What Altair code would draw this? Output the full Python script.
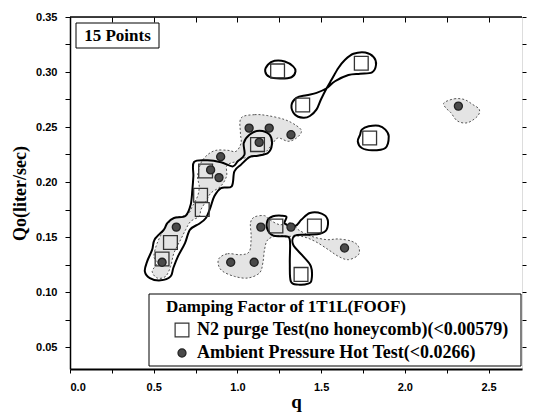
import altair as alt
import pandas as pd

# ---- measured points ----
series_names = ["N2 purge Test(no honeycomb)(<0.00579)", "Ambient Pressure Hot Test(<0.0266)"]

sq_q = [1.24, 1.74, 1.39, 1.79, 1.12, 0.81, 0.78, 0.79, 1.46, 1.23, 0.60, 0.55, 1.38]
sq_Qo = [0.301, 0.308, 0.270, 0.240, 0.234, 0.210, 0.188, 0.175, 0.160, 0.160, 0.145, 0.130, 0.116]

ci_q = [2.32, 1.07, 1.19, 1.32, 1.13, 0.90, 0.84, 0.89, 1.14, 1.32, 1.64, 0.635, 0.55, 0.96, 1.10]
ci_Qo = [0.269, 0.249, 0.249, 0.243, 0.236, 0.223, 0.211, 0.204, 0.159, 0.159, 0.140, 0.159, 0.127, 0.127, 0.127]

# ---- solid contours (N2 purge) ----
solid_top_q = [1.182, 1.222, 1.283, 1.333, 1.347, 1.323, 1.253, 1.192, 1.166]
solid_top_Qo = [0.3066, 0.3102, 0.3096, 0.3051, 0.3006, 0.2952, 0.294, 0.2955, 0.3006]

solid_loop_q = [1.323, 1.353, 1.413, 1.473, 1.533, 1.583, 1.663, 1.733, 1.804, 1.828, 1.814, 1.764, 1.693,
                1.643, 1.603, 1.563, 1.533, 1.499, 1.473, 1.433, 1.393, 1.343]
solid_loop_Qo = [0.2696, 0.2765, 0.2789, 0.281, 0.2852, 0.2916, 0.2973, 0.2985, 0.2997, 0.3066, 0.3136, 0.3178,
                 0.3166, 0.3111, 0.3036, 0.2931, 0.2852, 0.275, 0.266, 0.26, 0.2584, 0.2614]

solid_right_q = [1.743, 1.784, 1.844, 1.884, 1.904, 1.884, 1.804, 1.743, 1.719, 1.733]
solid_right_Qo = [0.2476, 0.2506, 0.2512, 0.2476, 0.2415, 0.2309, 0.2288, 0.2309, 0.2370, 0.243]

solid_chain_q = [0.741, 0.822, 0.902, 0.972, 1.002, 1.042, 1.038, 1.072, 1.132, 1.192, 1.206, 1.182, 1.122,
                 1.072, 1.022, 0.982, 0.966, 0.902, 0.862, 0.838, 0.812, 0.772, 0.717, 0.687, 0.645, 0.617,
                 0.601, 0.541, 0.477, 0.447, 0.461, 0.491, 0.505, 0.561, 0.581, 0.621, 0.691, 0.721, 0.731, 0.737]
solid_chain_Qo = [0.2182, 0.2197, 0.2179, 0.2142, 0.2188, 0.2248, 0.2355, 0.2430, 0.2467, 0.2430, 0.2339,
                  0.2264, 0.2239, 0.2227, 0.2158, 0.2097, 0.1961, 0.1945, 0.1870, 0.1764, 0.1673, 0.1621,
                  0.1567, 0.1445, 0.1324, 0.1218, 0.1142, 0.1106, 0.1127, 0.1188, 0.1279, 0.1385, 0.1476,
                  0.1567, 0.1627, 0.1673, 0.1694, 0.1794, 0.1930, 0.2052]

solid_low_q = [1.18, 1.212, 1.263, 1.293, 1.283, 1.343, 1.383, 1.433, 1.503, 1.539, 1.533, 1.493, 1.423,
               1.343, 1.333, 1.393, 1.439, 1.443, 1.423, 1.363, 1.319, 1.313, 1.313, 1.283, 1.215, 1.18]
solid_low_Qo = [0.1652, 0.1688, 0.1694, 0.1682, 0.1621, 0.1597, 0.1658, 0.1718, 0.1712, 0.1658, 0.1567,
                0.1530, 0.1521, 0.1512, 0.1430, 0.1324, 0.1233, 0.1112, 0.1076, 0.1067, 0.1097, 0.1264,
                0.1476, 0.1506, 0.1512, 0.1567]

# ---- hatched regions (Ambient hot test) ----
hatch_a_q = [2.234, 2.295, 2.355, 2.405, 2.445, 2.435, 2.375, 2.315, 2.275, 2.244]
hatch_a_Qo = [0.272, 0.2756, 0.275, 0.2705, 0.266, 0.26, 0.2539, 0.2554, 0.263, 0.2675]

hatch_b_q = [1.022, 1.102, 1.182, 1.283, 1.353, 1.383, 1.353, 1.303, 1.242, 1.206, 1.162, 1.102, 1.042,
             1.002, 0.962, 0.935, 0.935, 0.90, 0.842, 0.812, 0.782, 0.772, 0.721, 0.691, 0.661, 0.621, 0.601,
             0.571, 0.521, 0.491, 0.521, 0.501, 0.521, 0.561, 0.581, 0.621, 0.701, 0.731, 0.762, 0.772, 0.762,
             0.782, 0.822, 0.872, 0.942, 0.992, 1.022, 1.018]
hatch_b_Qo = [0.2582, 0.2612, 0.2603, 0.2567, 0.2512, 0.2461, 0.24, 0.237, 0.24, 0.2339, 0.2264, 0.2233,
              0.2218, 0.2188, 0.2173, 0.2142, 0.2052, 0.1961, 0.19, 0.1824, 0.1748, 0.1688, 0.1642, 0.1567,
              0.1476, 0.1355, 0.1233, 0.1142, 0.1127, 0.1188, 0.1264, 0.1324, 0.1445, 0.1567, 0.1612, 0.1673,
              0.1703, 0.1779, 0.187, 0.1961, 0.2052, 0.2173, 0.2248, 0.2288, 0.2288, 0.2279, 0.2355, 0.2445]

hatch_c_q = [0.892, 0.942, 1.022, 1.072, 1.082, 1.078, 1.102, 1.162, 1.192, 1.253, 1.323, 1.363, 1.443,
             1.533, 1.603, 1.683, 1.723, 1.723, 1.663, 1.603, 1.543, 1.463, 1.383, 1.303, 1.242, 1.182,
             1.162, 1.152, 1.132, 1.062, 0.982, 0.912, 0.886]
hatch_c_Qo = [0.1309, 0.1348, 0.1339, 0.137, 0.1506, 0.1627, 0.1682, 0.1694, 0.1658, 0.1612, 0.1627, 0.1567,
              0.1506, 0.1476, 0.1482, 0.1461, 0.1415, 0.1339, 0.1294, 0.1324, 0.1385, 0.1461, 0.1506, 0.1506,
              0.1512, 0.1476, 0.1385, 0.1264, 0.1173, 0.1127, 0.1142, 0.1188, 0.1248]

x_ticks = [0, 0.25, 0.5, 0.75, 1.0, 1.25, 1.5, 1.75, 2.0, 2.25, 2.5]
y_ticks = [0.05, 0.075, 0.1, 0.125, 0.15, 0.175, 0.2, 0.225, 0.25, 0.275, 0.3, 0.325, 0.35]


def poly_frame(polys):
    rows = []
    for name, qs, qos in polys:
        for i, (a, b) in enumerate(zip(qs, qos)):
            rows.append({"poly": name, "i": i, "q": a, "Qo": b})
    return pd.DataFrame(rows)


solid_df = poly_frame([
    ("top", solid_top_q, solid_top_Qo),
    ("loop", solid_loop_q, solid_loop_Qo),
    ("right", solid_right_q, solid_right_Qo),
    ("chain", solid_chain_q, solid_chain_Qo),
    ("low", solid_low_q, solid_low_Qo),
])
hatch_df = poly_frame([
    ("a", hatch_a_q, hatch_a_Qo),
    ("b", hatch_b_q, hatch_b_Qo),
    ("c", hatch_c_q, hatch_c_Qo),
])

pts = pd.DataFrame({
    "q": sq_q + ci_q,
    "Qo": sq_Qo + ci_Qo,
    "series": [series_names[0]] * len(sq_q) + [series_names[1]] * len(ci_q),
})

W, H = 452, 352
xs = alt.Scale(domain=[0, 2.7], nice=False, zero=False)
ys = alt.Scale(domain=[0.03, 0.35], nice=False, zero=False)

SERIF = "Liberation Serif"
SANS = "Liberation Sans"

hatch = alt.Chart(hatch_df).mark_line(
    interpolate="cardinal-closed", fill="#e4e4e4", stroke="#555", strokeDash=[2, 2], strokeWidth=1
).encode(
    x=alt.X("q:Q", scale=xs, axis=None),
    y=alt.Y("Qo:Q", scale=ys, axis=None),
    detail="poly:N",
    order="i:Q",
)

solid = alt.Chart(solid_df).mark_line(
    interpolate="cardinal-closed", stroke="black", strokeWidth=2
).encode(
    x=alt.X("q:Q", scale=xs, axis=None),
    y=alt.Y("Qo:Q", scale=ys, axis=None),
    detail="poly:N",
    order="i:Q",
)

frame_df = pd.DataFrame({"k": [0]})

legend_box = alt.Chart(frame_df).mark_rect(fill="white", stroke="black", strokeWidth=1).encode(
    x=alt.value(79), x2=alt.value(451), y=alt.value(277), y2=alt.value(349)
)

leg = alt.Legend(
    orient="none", legendX=96, legendY=282,
    title="Damping Factor of 1T1L(FOOF)",
    titleFont=SERIF, titleFontSize=17, titleFontWeight="bold", titleColor="black", titleLimit=500,
    labelFont=SERIF, labelFontSize=18, labelFontWeight="bold", labelColor="black", labelLimit=500,
    padding=0, symbolOffset=7, labelOffset=6,
    rowPadding=4, titlePadding=5, symbolStrokeWidth=1.2,
)

points = alt.Chart(pts).mark_point(strokeWidth=1.3, opacity=1).encode(
    x=alt.X("q:Q", scale=xs, axis=alt.Axis(
        values=x_ticks, title="q",
        labelExpr="(round(datum.value*100) % 50 == 0) ? format(datum.value, '.1f') : ''",
        titleFont=SERIF, titleFontSize=19, titleFontWeight="bold", titleColor="black", titlePadding=0,
        labelFont=SANS, labelFontSize=11, labelFontWeight="bold", labelColor="black", labelPadding=8,
        tickSize=4, tickColor="black", domainColor="black", domainWidth=2, grid=False)),
    y=alt.Y("Qo:Q", scale=ys, axis=alt.Axis(
        values=y_ticks, title="Qo(liter/sec)",
        labelExpr="(round(datum.value*1000) % 50 == 0) ? format(datum.value, '.2f') : ''",
        titleFont=SERIF, titleFontSize=18, titleFontWeight="bold", titleColor="black", titlePadding=6,
        labelFont=SANS, labelFontSize=11, labelFontWeight="bold", labelColor="black", labelPadding=8,
        tickSize=5, tickColor="black", domainColor="black", domainWidth=1.5, grid=False)),
    shape=alt.Shape("series:N", scale=alt.Scale(domain=series_names, range=["square", "circle"]), legend=leg),
    fill=alt.Fill("series:N", scale=alt.Scale(domain=series_names, range=["transparent", "#4a4a4a"]), legend=leg),
    stroke=alt.Stroke("series:N", scale=alt.Scale(domain=series_names, range=["#333333", "#222222"]), legend=leg),
    size=alt.Size("series:N", scale=alt.Scale(domain=series_names, range=[190, 65]), legend=leg),
)

mirror = alt.Chart(pts).mark_point(opacity=0).encode(
    x=alt.X("q:Q", scale=xs, axis=alt.Axis(
        orient="top", values=x_ticks, labels=False, title=None, domain=False,
        tickSize=5, tickColor="black", offset=-5, grid=False)),
    y=alt.Y("Qo:Q", scale=ys, axis=alt.Axis(
        orient="right", values=y_ticks, labels=False, title=None, domain=False,
        tickSize=4, tickColor="black", grid=False)),
)

top_line = alt.Chart(frame_df).mark_rule(color="black", strokeWidth=1.5).encode(
    x=alt.value(0), x2=alt.value(W), y=alt.value(0)
)

box = alt.Chart(frame_df).mark_rect(fill="white", stroke="black", strokeWidth=1).encode(
    x=alt.value(6), x2=alt.value(89), y=alt.value(6), y2=alt.value(31)
)
box_text = alt.Chart(frame_df).mark_text(
    text="15 Points", font=SERIF, fontSize=17, fontWeight="bold", color="black",
    align="center", baseline="middle"
).encode(x=alt.value(47.5), y=alt.value(19))

chart = alt.layer(hatch, solid, legend_box, points, mirror, top_line, box, box_text).resolve_axis(
    x="independent", y="independent"
).properties(
    width=W, height=H,
    autosize=alt.AutoSizeParams(type="none"),
    padding={"left": 62, "top": 9, "right": 10, "bottom": 44},
).configure_view(stroke=None).configure(background="white")

chart.save("out.html", embed_options={"renderer": "svg", "actions": False})
